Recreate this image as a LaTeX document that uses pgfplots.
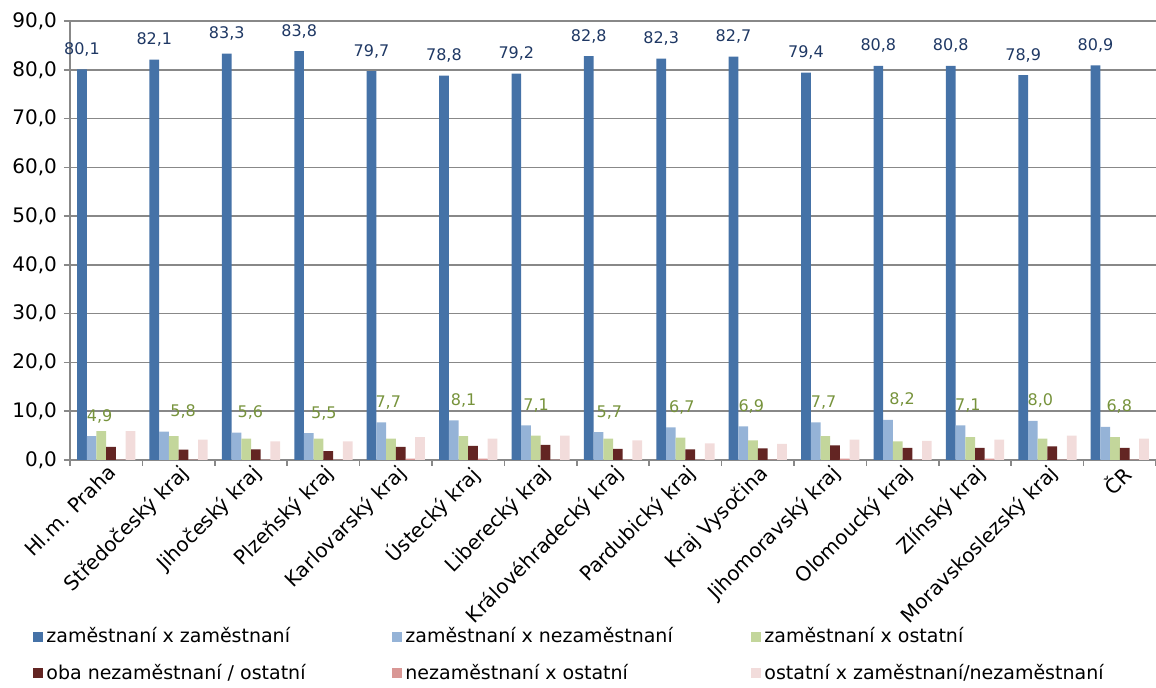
\documentclass[border=0pt]{standalone}
\usepackage{pgfplots}
\pgfplotsset{compat=1.18}
\usepackage{pgfplotstable}
\usepackage{fontspec}
\setmainfont{DejaVu Sans}

\definecolor{c1}{HTML}{4572A7}
\definecolor{c2}{HTML}{95B3D7}
\definecolor{c3}{HTML}{C3D69B}
\definecolor{c4}{HTML}{632523}
\definecolor{c5}{HTML}{D99795}
\definecolor{c6}{HTML}{F2DCDB}
\definecolor{lblblue}{HTML}{1F3864}
\definecolor{lblgreen}{HTML}{77933C}
\definecolor{gridgray}{HTML}{888888}

\pgfplotstableread{
x b1 b2 b3 b4 b5 b6 dx
0 80.1 4.9 5.9 2.7 0.1 5.9 4
1 82.1 5.8 4.9 2.1 0.1 4.2 9.5
2 83.3 5.6 4.4 2.2 0.1 3.8 7
3 83.8 5.5 4.4 1.8 0.05 3.8 7.5
4 79.7 7.7 4.4 2.7 0.3 4.7 3.5
5 78.8 8.1 4.9 2.9 0.3 4.4 5
6 79.2 7.1 5.0 3.1 0.1 5.0 5
7 82.8 5.7 4.4 2.3 0.1 4.0 5.5
8 82.3 6.7 4.6 2.2 0.1 3.4 5.5
9 82.7 6.9 4.0 2.4 0.1 3.3 4
10 79.4 7.7 4.9 3.0 0.3 4.2 4
11 80.8 8.2 3.8 2.5 0.1 3.9 7
12 80.8 7.1 4.7 2.5 0.3 4.2 3.75
13 78.9 8.0 4.4 2.8 0.1 5.0 3.75
14 80.9 6.8 4.7 2.5 0.1 4.4 7
}\data

\begin{document}
\begin{tikzpicture}
\begin{axis}[
  name=ax,
  width=543pt, height=219.5pt, scale only axis,
  ybar=0pt, bar width=0.134,
  xmin=-0.5, xmax=14.5, ymin=0, ymax=90,
  axis x line*=bottom, axis y line*=left,
  axis line style={gridgray, line width=0.8pt},
  ytick={0,10,...,90},
  ymajorgrids,
  grid style={gridgray, line width=0.8pt},
  tick align=outside,
  major tick length=3pt,
  tick style={gridgray, line width=0.8pt},
  scaled y ticks=false,
  yticklabel style={font=\fontsize{10}{12}\selectfont, /pgf/number format/fixed, /pgf/number format/fixed zerofill, /pgf/number format/precision=1, /pgf/number format/use comma, /pgf/number format/assume math mode=true},
  xtick={-0.5,0.5,...,14.5},
  xticklabels={},
  extra x ticks={0,1,...,14},
  extra x tick labels={Hl.m. Praha,Středočeský kraj,Jihočeský kraj,Plzeňský kraj,Karlovarský kraj,Ústecký kraj,Liberecký kraj,Královéhradecký kraj,Pardubický kraj,Kraj Vysočina,Jihomoravský kraj,Olomoucký kraj,Zlínský kraj,Moravskoslezský kraj,ČR},
  extra x tick style={major tick length=0pt, grid=none, xticklabel style={font=\fontsize{10}{12}\selectfont, rotate=45, anchor=north east, inner sep=1pt}},
  legend columns=3,
  legend cell align=left,
  legend style={at={(0,0)}, anchor=north west, xshift=-18.5pt, yshift=-83.5pt, draw=none, fill=none, inner sep=0pt, font=\fontsize{9.5}{11}\selectfont, row sep=9pt, nodes={inner sep=0pt}, /tikz/every odd column/.append style={column sep=1.5pt}},
  legend image code/.code={\path[#1] (0pt,-2.5pt) rectangle (5pt,2.5pt);},
]
\addplot[fill=c1, draw=none, nodes near coords={\pgfmathprintnumber[fixed,fixed zerofill,precision=1,use comma,assume math mode=true]{\pgfplotspointmeta}}, nodes near coords style={font=\fontsize{8}{10}\selectfont, text=lblblue, anchor=base, yshift=7.5pt}] table[x=x,y=b1]{\data};
\addlegendentry{\makebox[173pt][l]{\strut zaměstnaní x zaměstnaní}}
\addplot[fill=c2, draw=none, visualization depends on={\thisrow{dx} \as \dx}, nodes near coords={\pgfmathprintnumber[fixed,fixed zerofill,precision=1,use comma,assume math mode=true]{\pgfplotspointmeta}}, nodes near coords style={font=\fontsize{8}{10}\selectfont, text=lblgreen, anchor=base, yshift=7.5pt, xshift=\dx*1pt}] table[x=x,y=b2]{\data};
\addlegendentry{\makebox[173pt][l]{\strut zaměstnaní x nezaměstnaní}}
\addplot[fill=c3, draw=none] table[x=x,y=b3]{\data};
\addlegendentry{\makebox[173pt][l]{\strut zaměstnaní x ostatní}}
\addplot[fill=c4, draw=none] table[x=x,y=b4]{\data};
\addlegendentry{\makebox[173pt][l]{\strut oba nezaměstnaní / ostatní}}
\addplot[fill=c5, draw=none] table[x=x,y=b5]{\data};
\addlegendentry{\makebox[173pt][l]{\strut nezaměstnaní x ostatní}}
\addplot[fill=c6, draw=none] table[x=x,y=b6]{\data};
\addlegendentry{\makebox[173pt][l]{\strut ostatní x zaměstnaní/nezaměstnaní}}
\end{axis}
\pgfresetboundingbox
\path ([xshift=-35pt,yshift=-114pt]ax.south west) rectangle ([yshift=10.5pt]ax.north east);
\end{tikzpicture}
\end{document}
